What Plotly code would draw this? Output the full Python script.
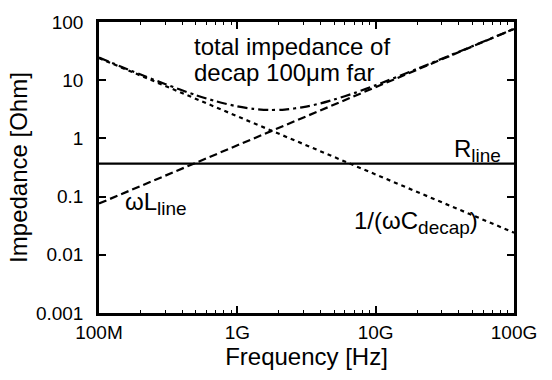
import plotly.graph_objects as go

# decade frequencies for straight lines
freq_decades = [1e8, 1e9, 1e10, 1e11]
r_line = [0.37, 0.37, 0.37, 0.37]
wl_line = [0.076, 0.76, 7.6, 76]
inv_wc_decap = [24, 2.4, 0.24, 0.024]

# total impedance curve
freq_total = [1e8, 2e8, 3e8, 5e8, 7e8, 1e9, 1.3e9, 1.7e9, 2.2e9, 3e9, 4e9,
              5e9, 7e9, 1e10, 2e10, 5e10, 1e11]
z_total = [24.5, 12.5, 8.6, 5.55, 4.35, 3.55, 3.22, 3.08, 3.13, 3.45, 4.0,
           4.65, 6.0, 8.2, 15.7, 38.4, 76.4]

x_tickvals = [1e8, 1e9, 1e10, 1e11]
x_ticktext = ["100M", "1G", "10G", "100G"]
y_tickvals = [0.001, 0.01, 0.1, 1, 10, 100]
y_ticktext = ["0.001", "0.01", "0.1", "1", "10", "100"]

x_minor = [m * d for d in [1e8, 1e9, 1e10] for m in range(2, 10)]

fig = go.Figure()
fig.add_trace(go.Scatter(x=freq_decades, y=r_line, mode="lines",
                         line=dict(color="black", width=2.2)))
fig.add_trace(go.Scatter(x=freq_decades, y=wl_line, mode="lines",
                         line=dict(color="black", width=2.2, dash="8px,4px")))
fig.add_trace(go.Scatter(x=freq_decades, y=inv_wc_decap, mode="lines",
                         line=dict(color="black", width=2.2, dash="4px,4px")))
fig.add_trace(go.Scatter(x=freq_total, y=z_total, mode="lines",
                         line=dict(color="black", width=2.2, dash="10px,4px,3px,4px",
                                   shape="spline", smoothing=0.8)))

font = "Liberation Sans, Arial, Helvetica, sans-serif"

fig.update_layout(
    width=552, height=380,
    margin=dict(l=99, r=38, t=13, b=67),
    plot_bgcolor="white", paper_bgcolor="white",
    showlegend=False,
    font=dict(family=font, size=19, color="black"),
    xaxis=dict(type="log", range=[8, 11], tickvals=x_tickvals, ticktext=x_ticktext,
               ticks="inside", ticklen=7, tickwidth=1.5, tickcolor="black",
               showline=True, linecolor="black", linewidth=2.5, mirror="allticks",
               showgrid=False, zeroline=False,
               minor=dict(tickvals=x_minor, ticks="inside", ticklen=3,
                          tickcolor="black", tickwidth=1, showgrid=False),
               title=dict(text="Frequency [Hz]", font=dict(size=24), standoff=6),
               tickfont=dict(size=19)),
    yaxis=dict(type="log", range=[-3, 2], tickvals=y_tickvals, ticktext=y_ticktext,
               ticks="inside", ticklen=7, tickwidth=1.5, tickcolor="black",
               showline=True, linecolor="black", linewidth=2.5, mirror="allticks",
               showgrid=False, zeroline=False, ticklabelstandoff=9,
               title=dict(text="Impedance [Ohm]", font=dict(size=24), standoff=2),
               tickfont=dict(size=19)),
)

ann_font = dict(family=font, size=24, color="black")
sub = "<sub><span style='font-size:19px'>{}</span></sub>"
fig.add_annotation(x=0.224, y=0.917, xref="paper", yref="paper",
                   text="total impedance of",
                   showarrow=False, xanchor="left", yanchor="middle", font=ann_font)
fig.add_annotation(x=0.224, y=0.827, xref="paper", yref="paper",
                   text="decap 100\u03bcm far",
                   showarrow=False, xanchor="left", yanchor="middle", font=ann_font)
fig.add_annotation(x=0.973, y=0.56, xref="paper", yref="paper",
                   text="R" + sub.format("line"), showarrow=False,
                   xanchor="right", yanchor="middle", font=ann_font)
fig.add_annotation(x=0.058, y=0.377, xref="paper", yref="paper",
                   text="\u03c9L" + sub.format("line"), showarrow=False,
                   xanchor="left", yanchor="middle", font=ann_font)
fig.add_annotation(x=0.918, y=0.31, xref="paper", yref="paper",
                   text="1/(\u03c9C" + sub.format("decap") + ")", showarrow=False,
                   xanchor="right", yanchor="middle", font=ann_font)

fig.write_html("out.html")
